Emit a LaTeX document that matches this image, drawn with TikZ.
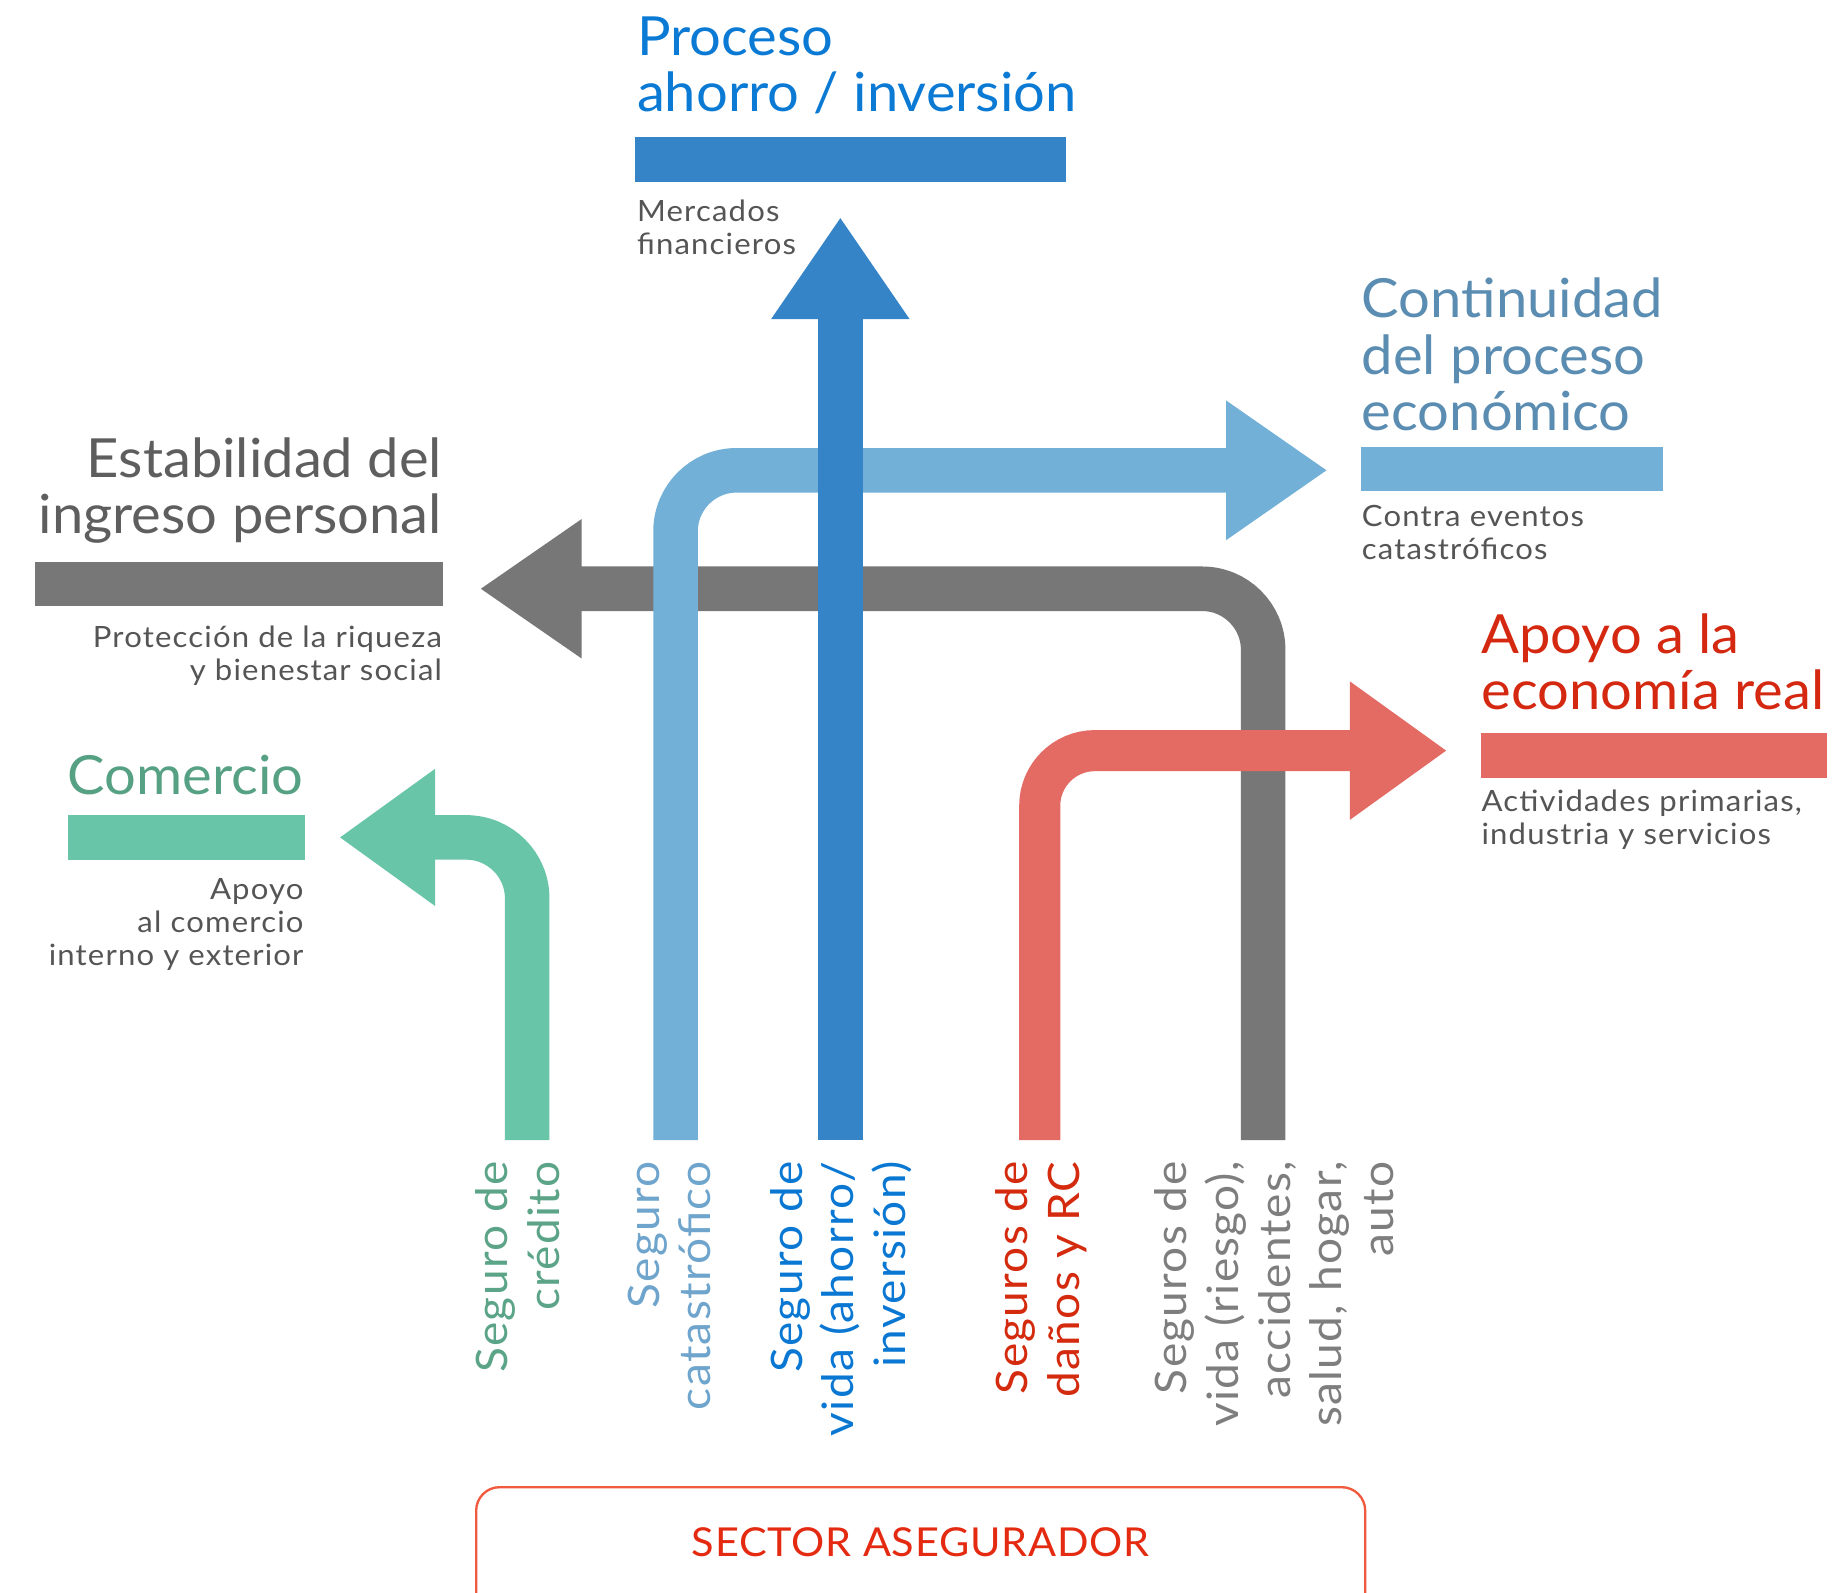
\documentclass[tikz,border=0pt]{standalone}
\usepackage{fontspec}
\setmainfont{Lato}
\newfontfamily\titlefont[FakeStretch=1.04]{Lato}
\newfontfamily\subfont[FakeStretch=1.06,LetterSpace=4]{Lato}
\newfontfamily\labfont[FakeStretch=1.06,LetterSpace=3]{Lato}
\newfontfamily\boxfont[FakeStretch=1.04,LetterSpace=2]{Lato}
\usetikzlibrary{calc}
\definecolor{fgreen}{HTML}{69C5A8}
\definecolor{flight}{HTML}{72B0D7}
\definecolor{fblue}{HTML}{3584C8}
\definecolor{fred}{HTML}{E46A64}
\definecolor{fgray}{HTML}{777777}
\definecolor{tgreen}{HTML}{56A184}
\definecolor{tlight}{HTML}{5A8DB1}
\definecolor{tblue}{HTML}{0A7AD4}
\definecolor{tred}{HTML}{D42810}
\definecolor{tgray}{HTML}{5E5E5E}
\definecolor{tsub}{HTML}{555555}
\definecolor{lgreen}{HTML}{5BA487}
\definecolor{llight}{HTML}{6FA5CC}
\definecolor{lblue}{HTML}{0A78D2}
\definecolor{lred}{HTML}{D42A0E}
\definecolor{lgray}{HTML}{7E7E7E}
\definecolor{boxline}{HTML}{F05A3F}
\definecolor{boxtext}{HTML}{E42A10}
\tikzset{
  bar/.style={inner sep=0pt, outer sep=0pt, minimum height=38pt, anchor=north west},
  title/.style={inner sep=0pt, font=\titlefont\fontsize{46}{48}\selectfont},
  subt/.style={inner sep=0pt, text=tsub, font=\subfont\fontsize{25}{28}\selectfont},
  vlabel/.style={inner sep=0pt, rotate=90, align=right, anchor=base east, font=\labfont\fontsize{37}{44}\selectfont},
  shaft/.style={line width=38pt},
}
\begin{document}
\begin{tikzpicture}[x=1pt,y=-1pt]
\useasboundingbox (0,0) rectangle (1568,1358);
\fill[white] (0,0) rectangle (1568,1358);

% bars
\node[bar, fill=fblue, minimum width=368pt] (bproc) at (541,117) {};
\node[bar, fill=fgray, minimum width=348pt] (bestab) at (30,479) {};
\node[bar, fill=flight, minimum width=258pt] (bcont) at (1160,381) {};
\node[bar, fill=fred, minimum width=295pt] (bapoyo) at (1263,625) {};
\node[bar, fill=fgreen, minimum width=202pt] (bcom) at (58,695) {};

% titles
\node[title, text=tblue, align=left, anchor=base west] (tproc) at (543,95) {Proceso\\ahorro / inversión};
\node[title, text=tgray, align=right, anchor=base east] (testab) at (377,455) {Estabilidad del\\ingreso personal};
\node[title, text=tlight, align=left, anchor=base west] (tcont) at (1161,367) {Continuidad\\del proceso\\económico};
\node[title, text=tred, align=left, anchor=base west] (tapoyo) at (1263,605) {Apoyo a la\\economía real};
\node[title, text=tgreen, anchor=base east] (tcom) at (259,677) {Comercio};

% subtitles
\node[subt, align=left, anchor=base west] (sproc) at (543,217) {Mercados\\financieros};
\node[subt, align=right, anchor=base east] (sestab) at (377,580) {Protección de la riqueza\\y bienestar social};
\node[subt, align=left, anchor=base west] (scont) at (1161,477) {Contra eventos\\catastróficos};
\node[subt, align=left, anchor=base west] (sapoyo) at (1263,720) {Actividades primarias,\\industria y servicios};
\node[subt, align=right, anchor=base east] (scom) at (259,823) {Apoyo\\al comercio\\interno y exterior};

% arrow coordinates
\coordinate (gS) at (1077,972); \coordinate (gB) at (496,502); \coordinate (gT) at (410,502);
\coordinate (cS) at (576,972); \coordinate (cB) at (1045.5,401); \coordinate (cT) at (1131,401);
\coordinate (pS) at (716.5,972); \coordinate (pB) at (716.5,272); \coordinate (pT) at (716.5,186);
\coordinate (rS) at (886.5,972); \coordinate (rB) at (1151,640); \coordinate (rT) at (1233,640);
\coordinate (eS) at (449.5,972); \coordinate (eB) at (371,714); \coordinate (eT) at (290,714);

% gray arrow
\draw[shaft, fgray, rounded corners=52pt] (gS) |- ($(gB)+(-2,0)$);
\fill[fgray] (gT) -- ($(gB)+(0,-59.5)$) -- ($(gB)+(0,59.5)$) -- cycle;
% light blue arrow
\draw[shaft, flight, rounded corners=52pt] (cS) |- ($(cB)+(2,0)$);
\fill[flight] (cT) -- ($(cB)+(0,-59.5)$) -- ($(cB)+(0,59.5)$) -- cycle;
% blue arrow
\draw[shaft, fblue] (pS) -- ($(pB)+(0,-2)$);
\fill[fblue] (pT) -- ($(pB)+(-59,0)$) -- ($(pB)+(59,0)$) -- cycle;
% red arrow
\draw[line width=35pt, fred, rounded corners=47pt] (rS) |- ($(rB)+(2,0)$);
\fill[fred] (rT) -- ($(rB)+(0,-59)$) -- ($(rB)+(0,59)$) -- cycle;
% green arrow
\draw[shaft, fgreen, rounded corners=52pt] (eS) |- ($(eB)+(-2,0)$);
\fill[fgreen] (eT) -- ($(eB)+(0,-58.5)$) -- ($(eB)+(0,58.5)$) -- cycle;

% bottom labels
\node[vlabel, text=lgreen] (lcred) at (477,990) {Seguro de\\crédito};
\node[vlabel, text=llight] (lcat) at (606,990) {Seguro\\catastrófico};
\node[vlabel, text=lblue] (lvida) at (772,990) {Seguro de\\vida (ahorro/\\inversión)};
\node[vlabel, text=lred] (ldan) at (920,990) {Seguros de\\daños y RC};
\node[vlabel, text=lgray] (lries) at (1188,990) {Seguros de\\vida (riesgo),\\accidentes,\\salud, hogar,\\auto};

% sector box
\node[draw=boxline, line width=2pt, rounded corners=20pt, inner sep=0pt, minimum width=758pt,
      text height=59pt, text depth=75pt, text=boxtext,
      font=\boxfont\fontsize{34}{40}\selectfont, anchor=base] (sector) at (785,1327) {SECTOR ASEGURADOR};
\end{tikzpicture}
\end{document}
